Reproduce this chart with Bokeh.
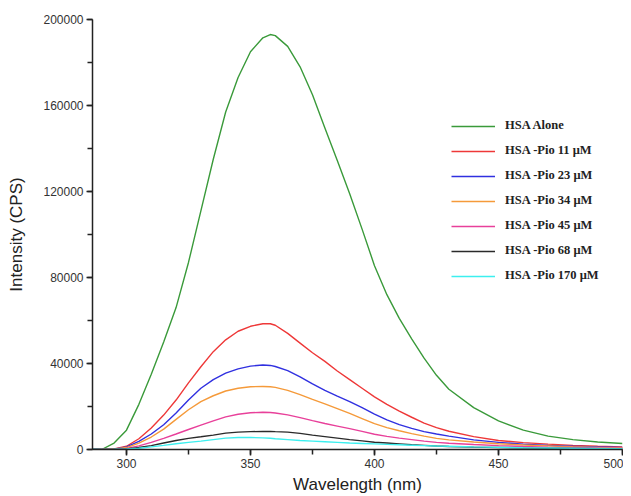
from bokeh.plotting import figure
from bokeh.models import Range1d, SingleIntervalTicker, Legend, LegendItem, NumeralTickFormatter
from bokeh.embed import file_html
from bokeh.resources import INLINE

wavelength = [286, 290, 295, 300, 305, 310, 315, 320, 325, 330, 335, 340, 345, 350, 355, 358, 360, 365,
              370, 375, 380, 385, 390, 395, 400, 405, 410, 415, 420, 425, 430, 440, 450,
              460, 470, 480, 490, 500]

hsa_alone = [400, 0, 3000, 9000, 21000, 35000, 50000, 66000, 87000, 111000, 135000, 157000, 173000,
             185000, 191500, 193000, 192500, 187500, 178000, 165000, 149500, 134400, 119000, 102500,
             85500, 72000, 61000, 51500, 42500, 34500, 28000, 19500, 13300, 9000, 6200, 4600, 3500, 2800]
pio_11 = [300, 0, 300, 1500, 5000, 10000, 16000, 23000, 31000, 38500, 45500, 51000, 55000, 57300,
          58500, 58500, 57800, 54000, 49500, 45000, 41000, 36500, 32500, 28500, 24500, 21000, 17800,
          15000, 12300, 10200, 8500, 6000, 4200, 3200, 2500, 1900, 1500, 1200]
pio_23 = [200, 0, 200, 1200, 3800, 7200, 11500, 17000, 23000, 28500, 32500, 35500, 37500, 38800,
          39300, 39100, 38600, 36700, 33800, 30500, 27500, 24800, 22300, 19500, 16500, 13800, 11600,
          9800, 8300, 7200, 6200, 4500, 3300, 2500, 1900, 1500, 1200, 1000]
pio_34 = [200, 0, 200, 900, 3000, 5800, 9500, 14000, 18500, 22300, 25000, 27200, 28500, 29200,
          29300, 29200, 28900, 27500, 25500, 23300, 21200, 19000, 16800, 14400, 12000, 10200, 8700,
          7400, 6200, 5200, 4500, 3500, 2700, 2100, 1700, 1300, 1000, 800]
pio_45 = [200, 0, 100, 500, 1700, 3300, 5200, 7200, 9300, 11300, 13300, 15200, 16400, 17100,
          17300, 17200, 17000, 16100, 14800, 13400, 12100, 10900, 9700, 8400, 7100, 6100, 5300,
          4600, 3900, 3300, 2900, 2300, 1800, 1400, 1100, 900, 700, 600]
pio_68 = [200, 0, 100, 300, 900, 1800, 3000, 4200, 5200, 5900, 6700, 7600, 8100, 8300,
          8400, 8400, 8300, 8100, 7500, 6700, 6000, 5300, 4600, 4000, 3400, 3000, 2600,
          2200, 1900, 1600, 1400, 1100, 900, 700, 600, 500, 400, 400]
pio_170 = [200, 0, 100, 300, 600, 1200, 1900, 2700, 3300, 3900, 4600, 5300, 5600, 5600,
           5400, 5200, 5000, 4600, 4200, 3900, 3600, 3300, 3000, 2800, 2600, 2400, 2200,
           2000, 1800, 1600, 1500, 1200, 1000, 800, 700, 600, 500, 400]

series_labels = ["HSA Alone", "HSA -Pio 11 \u03bcM", "HSA -Pio 23 \u03bcM", "HSA -Pio 34 \u03bcM",
                 "HSA -Pio 45 \u03bcM", "HSA -Pio 68 \u03bcM", "HSA -Pio 170 \u03bcM"]
series_values = [hsa_alone, pio_11, pio_23, pio_34, pio_45, pio_68, pio_170]
colors = ["#3a9a3a", "#ee3838", "#3030e0", "#f59a3a", "#e8409a", "#2a2a2a", "#3cefef"]

x_ticks_interval = 50
y_ticks_interval = 40000

p = figure(width=623, height=496, output_backend="svg", toolbar_location=None,
           x_range=Range1d(286.3, 500), y_range=Range1d(0, 200000),
           min_border_left=92, min_border_right=1, min_border_top=19, min_border_bottom=47)
p.outline_line_color = None
p.xgrid.visible = False
p.ygrid.visible = False
p.background_fill_color = "white"

items = []
for lab, vals, col in zip(series_labels, series_values, colors):
    r = p.line(wavelength, vals, line_color=col, line_width=1.4)
    items.append(LegendItem(label=lab, renderers=[r]))

p.xaxis.ticker = SingleIntervalTicker(interval=x_ticks_interval, num_minor_ticks=2)
p.yaxis.ticker = SingleIntervalTicker(interval=y_ticks_interval, num_minor_ticks=2)
p.yaxis.formatter = NumeralTickFormatter(format="0")
p.xaxis.formatter = NumeralTickFormatter(format="0")

for ax in (p.xaxis[0], p.yaxis[0]):
    ax.axis_line_color = "#222222"
    ax.axis_line_width = 1.5
    ax.major_tick_line_color = "#222222"
    ax.minor_tick_line_color = "#222222"
    ax.major_tick_line_width = 1.5
    ax.minor_tick_line_width = 1.5
    ax.major_tick_in = 0
    ax.major_tick_out = 6
    ax.minor_tick_in = 0
    ax.minor_tick_out = 5
    ax.major_label_text_font = "Liberation Sans"
    ax.major_label_text_font_size = "12px"
    ax.major_label_text_color = "#333333"
    ax.axis_label_text_font = "Liberation Sans"
    ax.axis_label_text_font_size = "17px"
    ax.axis_label_text_font_style = "normal"
    ax.axis_label_text_color = "#222222"

p.xaxis.axis_label = "Wavelength (nm)"
p.yaxis.axis_label = "Intensity (CPS)"
p.xaxis.major_label_standoff = 3
p.yaxis.major_label_standoff = 3
p.xaxis.axis_label_standoff = 4
p.yaxis.axis_label_standoff = 14

legend = Legend(items=items, location=(359, 166), padding=0, margin=0,
                glyph_width=44, glyph_height=14, label_height=14, spacing=10,
                label_standoff=10, border_line_color=None, background_fill_alpha=0,
                label_text_font="Liberation Serif", label_text_font_style="bold",
                label_text_font_size="12.5px", label_text_color="#222222")
p.add_layout(legend)

open("out.html", "w").write(file_html(p, INLINE))
